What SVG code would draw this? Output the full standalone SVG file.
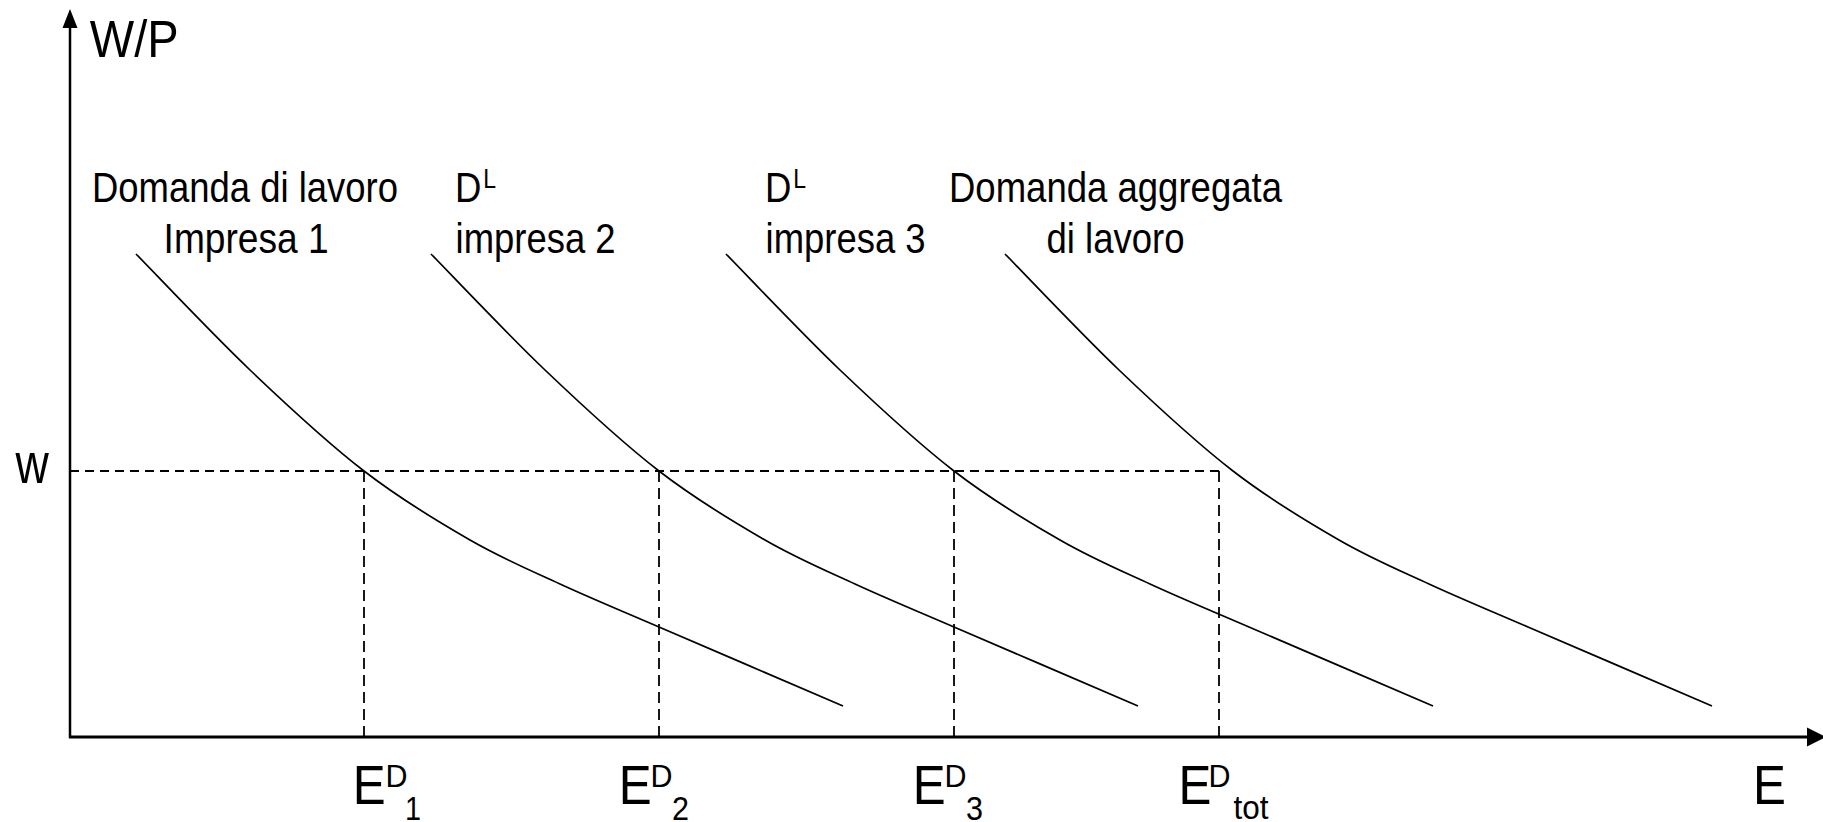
<svg xmlns="http://www.w3.org/2000/svg" width="1823" height="822" viewBox="0 0 1823 822">
<defs>
<style>
text{font-family:"Liberation Sans",Arial,sans-serif;fill:#000}
.lab{font-size:42px}
.sup{font-size:27px}
.big{font-size:56px}
.small{font-size:32px}
.sub{font-size:34px}
.axis{stroke:#000;fill:none}
.curve{stroke:#000;stroke-width:1.7;fill:none}
.dash{stroke:#000;stroke-width:1.8;fill:none}
.dh{stroke-dasharray:9 6}
.dv{stroke-dasharray:11 6}
</style>
<path id="dcurve" d="M136,254 C155,273.3 212,333.8 250,370 C288,406.2 327.3,442.7 364,471 C400.7,499.3 437.3,521.2 470,540 C502.7,558.8 528.5,569.5 560,584 C591.5,598.5 611.8,606.7 659,627 C706.2,647.3 812.3,692.8 843,706"/>
</defs>
<rect width="1823" height="822" fill="#fff"/>

<g id="axes">
<line class="axis" x1="70" y1="738" x2="70" y2="26" stroke-width="2.5"/>
<polygon points="70,9 62.5,28 77.5,28" fill="#000"/>
<line class="axis" x1="69" y1="737" x2="1810" y2="737" stroke-width="3"/>
<polygon points="1826,737 1807,727.5 1807,746.5" fill="#000"/>
<text x="89.8" y="57" font-size="52" textLength="88.8" lengthAdjust="spacingAndGlyphs">W/P</text>
<text x="15.5" y="483" font-size="57" textLength="33.3" lengthAdjust="spacingAndGlyphs">w</text>
<text class="big" x="1753" y="804" textLength="32.9" lengthAdjust="spacingAndGlyphs">E</text>
</g>

<g id="connectors">
<line class="dash dh" x1="70" y1="471" x2="1219" y2="471"/>
<line class="dash dv" x1="364" y1="471" x2="364" y2="737"/>
<line class="dash dv" x1="659" y1="471" x2="659" y2="737"/>
<line class="dash dv" x1="954" y1="471" x2="954" y2="737"/>
<line class="dash dv" x1="1219" y1="471" x2="1219" y2="737"/>
</g>

<g id="curve1">
<use href="#dcurve" class="curve"/>
<text class="lab" x="92" y="202" textLength="306" lengthAdjust="spacingAndGlyphs">Domanda di lavoro</text>
<text class="lab" x="163.6" y="253" textLength="165" lengthAdjust="spacingAndGlyphs">Impresa 1</text>
</g>

<g id="curve2">
<use href="#dcurve" class="curve" transform="translate(295,0)"/>
<text class="lab" x="455.1" y="202" textLength="26.4" lengthAdjust="spacingAndGlyphs">D</text>
<text class="sup" x="483.3" y="188" textLength="12.8" lengthAdjust="spacingAndGlyphs">L</text>
<text class="lab" x="455.6" y="253" textLength="160" lengthAdjust="spacingAndGlyphs">impresa 2</text>
</g>

<g id="curve3">
<use href="#dcurve" class="curve" transform="translate(590,0)"/>
<text class="lab" x="765.1" y="202" textLength="26.4" lengthAdjust="spacingAndGlyphs">D</text>
<text class="sup" x="793.3" y="188" textLength="12.8" lengthAdjust="spacingAndGlyphs">L</text>
<text class="lab" x="765.6" y="253" textLength="160" lengthAdjust="spacingAndGlyphs">impresa 3</text>
</g>

<g id="curve4">
<use href="#dcurve" class="curve" transform="translate(869,0)"/>
<text class="lab" x="949" y="202" textLength="333" lengthAdjust="spacingAndGlyphs">Domanda aggregata</text>
<text class="lab" x="1046.5" y="253" textLength="138" lengthAdjust="spacingAndGlyphs">di lavoro</text>
</g>

<g id="label-e1">
<text class="big" x="352.8" y="804" textLength="32.9" lengthAdjust="spacingAndGlyphs">E</text>
<text class="small" x="385.6" y="787" textLength="22" lengthAdjust="spacingAndGlyphs">D</text>
<text class="sub" x="405" y="820" textLength="16" lengthAdjust="spacingAndGlyphs">1</text>
</g>
<g id="label-e2">
<text class="big" x="618.8" y="804" textLength="32.9" lengthAdjust="spacingAndGlyphs">E</text>
<text class="small" x="650.6" y="787" textLength="22" lengthAdjust="spacingAndGlyphs">D</text>
<text class="sub" x="672" y="820" textLength="17" lengthAdjust="spacingAndGlyphs">2</text>
</g>
<g id="label-e3">
<text class="big" x="912.8" y="804" textLength="32.9" lengthAdjust="spacingAndGlyphs">E</text>
<text class="small" x="944.6" y="787" textLength="22" lengthAdjust="spacingAndGlyphs">D</text>
<text class="sub" x="966" y="820" textLength="17" lengthAdjust="spacingAndGlyphs">3</text>
</g>
<g id="label-etot">
<text class="big" x="1178.5" y="804" textLength="32.9" lengthAdjust="spacingAndGlyphs">E</text>
<text class="small" x="1208.6" y="787" textLength="22" lengthAdjust="spacingAndGlyphs">D</text>
<text class="sub" x="1233.5" y="819" textLength="35" lengthAdjust="spacingAndGlyphs">tot</text>
</g>
</svg>
